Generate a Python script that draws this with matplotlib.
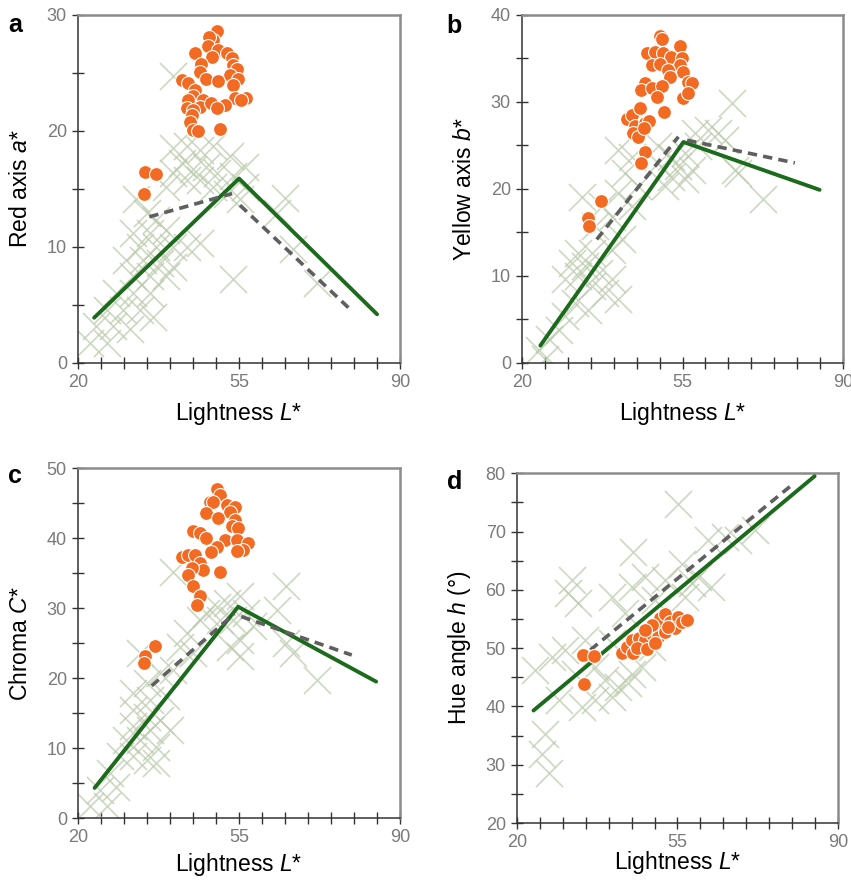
import matplotlib
matplotlib.use("Agg")
import matplotlib.pyplot as plt
import numpy as np

FAM = "Liberation Sans"
plt.rcParams["font.family"] = [FAM, "DejaVu Sans"]
plt.rcParams["mathtext.fontset"] = "custom"
plt.rcParams["mathtext.rm"] = FAM
plt.rcParams["mathtext.it"] = FAM + ":italic"

GREEN = "#1c6a1c"
DASH = "#5f5f5f"
ORANGE = "#f36a22"
CROSS = "#bccbad"
TICKGREY = "#7a7a7a"

# ---- a: red axis a* ----
a_cross_L = [40.7, 40.7, 43.6, 46.5, 49.4, 53.0, 56.3, 42.5, 45.0, 47.9, 50.1, 53.7, 56.3, 46.5,
             49.4, 52.3, 55.2, 43.6, 40.7, 39.2, 32.7, 34.9, 37.0, 32.0, 35.6, 39.2, 33.4, 37.0,
             40.7, 43.6, 46.5, 30.5, 34.1, 37.8, 40.7, 32.0, 35.6, 39.2, 28.3, 32.0, 35.6, 26.2,
             29.8, 33.4, 36.3, 24.0, 27.6, 31.2, 22.5, 26.2, 65.0, 63.2, 53.7, 66.8, 71.9]
a_cross_v = [24.7, 18.5, 18.7, 18.4, 18.7, 17.8, 16.9, 17.2, 16.7, 16.9, 16.4, 16.1, 15.2, 15.8,
             15.2, 14.6, 14.1, 15.8, 16.4, 15.2, 14.1, 12.9, 12.3, 11.2, 11.2, 11.5, 10.0, 10.0,
             10.0, 10.0, 10.3, 8.9, 8.9, 8.6, 8.3, 7.5, 7.5, 7.5, 6.0, 6.0, 6.0, 4.6,
             4.6, 4.6, 4.0, 3.2, 3.2, 2.9, 1.7, 1.7, 14.2, 12.9, 7.2, 9.8, 6.9]
a_dot_L = [50.2, 49.4, 48.5, 48.3, 50.5, 45.4, 49.2, 52.3, 53.4, 53.7, 46.8, 54.5, 46.5, 53.0,
           42.5, 47.9, 50.5, 54.8, 43.9, 45.4, 53.7, 45.0, 43.9, 47.2, 54.1, 56.6, 46.5, 49.0,
           51.9, 43.6, 45.0, 50.1, 55.5, 44.7, 44.3, 44.9, 46.1, 50.8, 34.5, 36.9, 34.3]
a_dot_v = [28.6, 27.8, 28.1, 27.3, 27.0, 26.7, 26.4, 26.7, 26.3, 25.7, 25.8, 25.3, 25.1, 24.8,
           24.4, 24.5, 24.3, 24.5, 24.1, 23.5, 24.0, 23.0, 22.7, 22.7, 22.8, 22.8, 22.1, 22.4,
           22.2, 22.0, 21.8, 22.0, 22.7, 21.4, 20.8, 20.1, 20.0, 20.2, 16.5, 16.3, 14.6]
a_fit_L = [23.5, 55.0, 85.0]
a_fit_v = [3.9, 15.9, 4.2]
a_dash = [([35.5, 53.5], [12.6, 14.6]), ([55.2, 79.5], [13.6, 4.5])]

# ---- b: yellow axis b* ----
b_cross_L = [65.7, 62.8, 60.6, 57.7, 58.4, 55.5, 52.6, 49.7, 49.7, 54.1, 57.0, 55.5, 52.6, 51.2,
             41.0, 43.9, 42.5, 45.4, 41.0, 43.9, 37.4, 33.1, 39.6, 36.0, 41.8, 39.6, 35.2, 32.3,
             30.9, 33.8, 36.7, 39.6, 32.3, 29.4, 35.2, 38.1, 41.0, 31.6, 34.5, 29.4, 28.0, 25.8,
             23.6, 25.1, 67.1, 72.6, 64.2, 66.4]
b_cross_v = [29.9, 26.4, 26.8, 26.4, 24.9, 24.1, 23.7, 24.9, 23.0, 22.6, 22.2, 21.1, 21.4, 20.3,
             24.5, 23.7, 21.8, 20.3, 19.5, 18.0, 18.0, 19.1, 16.8, 15.7, 14.2, 13.0, 12.6, 12.6,
             11.5, 11.1, 10.3, 9.6, 10.0, 9.6, 8.8, 8.0, 7.3, 6.9, 6.1, 5.4, 3.8, 2.7,
             1.5, 0.4, 21.8, 18.8, 25.6, 22.2]
b_dot_L = [50.2, 50.6, 54.4, 47.2, 49.0, 50.8, 52.6, 54.8, 48.3, 50.1, 54.4, 51.9, 55.2, 52.3,
           56.3, 57.0, 46.8, 46.0, 48.3, 50.5, 49.4, 55.2, 56.3, 51.0, 42.8, 43.9, 45.7, 44.6,
           46.8, 47.6, 44.3, 45.4, 46.5, 46.8, 46.0, 37.2, 34.5, 34.6]
b_dot_v = [37.6, 37.2, 36.4, 35.6, 35.8, 35.6, 35.2, 35.0, 34.3, 34.4, 34.3, 33.7, 33.5, 32.9,
           32.3, 32.2, 32.2, 31.4, 31.6, 31.8, 30.6, 30.4, 31.0, 28.9, 28.1, 28.5, 29.3, 27.2,
           27.6, 27.8, 26.4, 26.0, 27.0, 24.3, 23.0, 18.6, 16.7, 15.8]
b_fit_L = [24.0, 55.2, 84.9]
b_fit_v = [2.0, 25.4, 19.9]
b_dash = [([36.3, 54.1], [14.2, 26.0]), ([56.0, 79.5], [25.6, 23.0])]

# ---- c: chroma C* ----
c_cross_L = [40.7, 65.3, 63.2, 55.2, 52.3, 50.1, 47.9, 46.5, 50.8, 53.7, 56.6, 58.1, 55.2, 55.2,
             53.0, 43.6, 42.1, 45.0, 65.3, 66.8, 71.9, 33.4, 40.7, 37.8, 34.9, 32.0, 35.6, 39.2,
             32.0, 34.9, 37.8, 39.9, 32.0, 35.6, 33.4, 37.0, 30.5, 29.1, 32.0, 34.9, 37.0, 26.9,
             24.7, 22.5, 26.2, 28.3]
c_cross_v = [35.2, 33.1, 29.8, 31.7, 30.7, 30.2, 29.3, 28.3, 28.3, 28.3, 29.3, 27.4, 25.5, 23.1,
             24.5, 26.4, 24.5, 23.6, 25.0, 23.6, 19.8, 23.6, 21.2, 20.7, 19.3, 17.9, 16.9, 17.4,
             15.5, 14.5, 14.0, 12.6, 13.1, 12.6, 11.2, 10.2, 11.2, 8.8, 8.8, 8.3, 7.9, 6.4,
             4.0, 1.7, 1.7, 4.5]
c_dot_L = [50.2, 50.8, 48.6, 49.3, 52.3, 54.1, 53.0, 47.9, 50.4, 54.1, 53.4, 54.8, 45.0, 46.5,
           47.9, 51.9, 54.5, 57.0, 50.1, 49.0, 55.9, 54.5, 42.5, 43.9, 45.4, 46.5, 47.2, 44.7,
           43.9, 50.8, 44.9, 46.5, 45.9, 36.7, 34.5, 34.3]
c_dot_v = [47.0, 46.2, 45.2, 45.2, 44.8, 44.5, 43.8, 43.6, 42.9, 42.6, 41.7, 41.4, 41.0, 40.7,
           40.0, 39.8, 39.8, 39.3, 38.8, 38.0, 38.3, 38.1, 37.3, 37.6, 37.6, 36.4, 35.5, 35.7,
           34.8, 35.2, 33.2, 31.7, 30.5, 24.6, 23.1, 22.1]
c_fit_L = [23.6, 54.8, 84.8]
c_fit_v = [4.3, 30.2, 19.5]
c_dash = [([36.0, 54.0], [18.9, 29.2]), ([55.5, 79.5], [28.8, 23.3])]

# ---- d: hue angle h ----
d_cross_L = [55.2, 45.4, 32.0, 31.2, 33.4, 45.0, 47.9, 50.1, 40.7, 43.6, 34.9, 30.5, 40.7, 24.0,
             27.6, 32.7, 37.0, 39.2, 42.1, 45.0, 44.3, 40.7, 37.0, 34.1, 29.1, 26.2, 25.4, 26.9,
             62.4, 61.7, 65.3, 68.2, 71.9, 55.9, 52.3, 56.6, 58.1, 59.5, 49.4, 47.2]
d_cross_v = [74.8, 66.5, 61.7, 59.4, 57.7, 60.5, 62.2, 58.2, 58.8, 56.0, 51.4, 49.7, 50.8, 46.2,
             48.5, 45.6, 46.8, 44.5, 43.4, 45.6, 44.0, 41.6, 41.1, 39.9, 41.1, 35.3, 31.9, 28.5,
             60.5, 68.5, 69.1, 68.5, 70.3, 64.5, 61.7, 58.8, 61.1, 62.2, 50.2, 46.8]
d_dot_L = [34.5, 36.7, 34.7, 42.8, 43.9, 45.4, 45.0, 46.5, 47.9, 46.1, 48.3, 49.4, 50.8, 50.8,
           52.3, 51.2, 52.3, 53.4, 54.1, 55.2, 54.4, 55.9, 57.0, 49.4, 47.9, 50.1, 53.0]
d_dot_v = [48.8, 48.6, 43.8, 49.1, 50.2, 49.1, 51.4, 51.7, 51.4, 50.0, 49.9, 52.5, 53.7, 51.9,
           52.8, 55.1, 55.9, 54.5, 53.7, 55.4, 53.4, 54.5, 54.8, 53.9, 53.1, 50.8, 53.7]
d_fit_L = [23.6, 84.9]
d_fit_v = [39.3, 79.5]
d_dash = [([36.0, 79.5], [49.7, 77.7])]

panels = [
    ("a", [0.0917, 0.588, 0.3784, 0.395], (0, 30), "Red axis $a$*",
     a_cross_L, a_cross_v, a_dot_L, a_dot_v, a_fit_L, a_fit_v, a_dash, (0.018, 0.972), -0.144),
    ("b", [0.6134, 0.588, 0.3772, 0.395], (0, 40), "Yellow axis $b$*",
     b_cross_L, b_cross_v, b_dot_L, b_dot_v, b_fit_L, b_fit_v, b_dash, (0.534, 0.970), -0.144),
    ("c", [0.0917, 0.0715, 0.3784, 0.397], (0, 50), "Chroma $C$*",
     c_cross_L, c_cross_v, c_dot_L, c_dot_v, c_fit_L, c_fit_v, c_dash, (0.018, 0.460), -0.134),
    ("d", [0.6075, 0.0658, 0.3772, 0.397], (20, 80), "Hue angle $h$ (°)",
     d_cross_L, d_cross_v, d_dot_L, d_dot_v, d_fit_L, d_fit_v, d_dash, (0.534, 0.453), -0.114),
]

fig = plt.figure(figsize=(8.51, 8.81), dpi=100)

for (tag, rect, ylim, ylab, xl, xv, dl, dv, fl, fv, dash, tpos, xlab_y) in panels:
    ax = fig.add_axes(rect)
    ax.scatter(xl, xv, marker="x", s=380, c=CROSS, linewidths=1.2, alpha=0.75, zorder=2)
    ax.plot(fl, fv, color=GREEN, lw=2.8, solid_capstyle="round", zorder=3)
    for dx, dy in dash:
        ax.plot(dx, dy, color=DASH, lw=2.6, dashes=(2.6, 1.7), zorder=3)
    ax.scatter(dl, dv, s=100, c=ORANGE, edgecolors="white", linewidths=0.8, zorder=4)

    ax.set_xlim(20, 90)
    ax.set_ylim(*ylim)
    ax.set_xticks(np.arange(20, 91, 5))
    ax.set_xticklabels([str(v) if v in (20, 55, 90) else "" for v in range(20, 91, 5)])
    yt = np.arange(ylim[0], ylim[1] + 1, 5)
    ax.set_yticks(yt)
    ax.set_yticklabels([str(v) if v % 10 == 0 else "" for v in yt])
    ax.tick_params(direction="inout", length=8, width=1.0, color="#333333",
                   labelsize=13, labelcolor=TICKGREY, pad=4)
    for side in ("left", "bottom"):
        ax.spines[side].set_color("#333333")
        ax.spines[side].set_linewidth(1.1)
    for side in ("top", "right"):
        ax.spines[side].set_color("#8c8c8c")
        ax.spines[side].set_linewidth(1.8)

    ax.set_xlabel("Lightness $L$*", fontsize=16.5, va="center")
    ax.xaxis.set_label_coords(0.5, xlab_y)
    ax.set_ylabel(ylab, fontsize=16.5, va="center", ha="center")
    ax.yaxis.set_label_coords(-0.18, 0.5)

    fig.text(tpos[0], tpos[1], tag, fontsize=18, fontweight="bold",
             ha="center", va="center")

fig.savefig("out.png", dpi=100)
